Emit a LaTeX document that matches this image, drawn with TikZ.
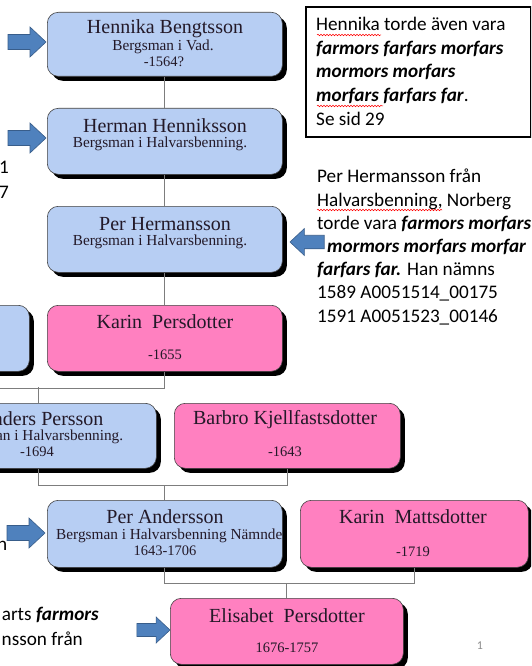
\documentclass[tikz,border=0pt]{standalone}
\usepackage{fontspec}
\setmainfont{Liberation Serif}
\newfontfamily\sidefont{Carlito}
\usetikzlibrary{shadows,decorations.pathmorphing}
\definecolor{boxblue}{RGB}{183,206,243}
\definecolor{boxpink}{RGB}{255,128,192}
\definecolor{arrowblue}{RGB}{79,129,189}
\definecolor{arrowedge}{RGB}{56,93,138}
\definecolor{linegray}{RGB}{125,125,125}
\definecolor{txt}{RGB}{35,25,40}
\begin{document}
\begin{tikzpicture}[x=1pt,y=-1pt,
  person/.style={draw=black!75, line width=0.6pt, rounded corners=11pt, anchor=north west,
     inner sep=0pt, drop shadow={shadow xshift=4.5pt, shadow yshift=-4.5pt, fill=black, opacity=1}},
  bluebox/.style={person, fill=boxblue},
  pinkbox/.style={person, fill=boxpink},
  nm/.style={inner sep=0pt, text=txt, font=\fontsize{20}{20}\selectfont},
  sub/.style={inner sep=0pt, text=txt, font=\fontsize{15.3}{15}\selectfont},
  yr/.style={inner sep=0pt, text=txt, font=\fontsize{14.5}{15}\selectfont},
  conn/.style={draw=linegray, line width=0.9pt},
  side/.style={anchor=base west, inner sep=0pt, text=black, font=\sidefont\fontsize{19.2}{20}\selectfont},
  wavy/.style={draw=red, line width=0.5pt, decorate, decoration={snake, amplitude=0.8pt, segment length=3pt}},
  rarrow/.pic={\filldraw[fill=arrowblue, draw=arrowedge, line width=0.6pt]
     (0,0) -- (-16,-15) -- (-16,-7.5) -- (-38,-7.5) -- (-38,7.5) -- (-16,7.5) -- (-16,15) -- cycle;}
]
\useasboundingbox (0,0) rectangle (531,666);
\clip (0,0) rectangle (531,666);
\fill[white] (0,0) rectangle (531,666);

% person boxes
\node[bluebox, minimum width=235pt, minimum height=64pt] (hb) at (47,12) {};
\node[bluebox, minimum width=235pt, minimum height=66pt] (hh) at (47,108) {};
\node[bluebox, minimum width=235pt, minimum height=66pt] (ph) at (47,206) {};
\node[bluebox, minimum width=235pt, minimum height=66pt] (lb) at (-206,305) {};
\node[pinkbox, minimum width=235pt, minimum height=66pt] (kp) at (47,305) {};
\node[bluebox, minimum width=235pt, minimum height=65pt] (ap) at (-79,403) {};
\node[pinkbox, minimum width=226pt, minimum height=65pt] (bk) at (174,403) {};
\node[bluebox, minimum width=235pt, minimum height=67pt] (pa) at (47,500) {};
\node[pinkbox, minimum width=228pt, minimum height=67pt] (km) at (300,500) {};
\node[pinkbox, minimum width=233pt, minimum height=66pt] (ep) at (170,598) {};

% texts in boxes
\node[nm] (hbn) at (165,29) {Hennika Bengtsson};
\node[sub] (hbs) at (163,47) {Bergsman i Vad.};
\node[yr] (hby) at (164,62) {-1564?};

\node[nm] (hhn) at (165,126) {Herman Henniksson};
\node[sub] (hhs) at (160,144) {Bergsman i Halvarsbenning.};

\node[nm] (phn) at (165,224) {Per Hermansson};
\node[sub] (phs) at (160,242) {Bergsman i Halvarsbenning.};

\node[nm] (kpn) at (165,322) {Karin\ \ Persdotter};
\node[yr] (kpy) at (165,355) {-1655};

\node[nm] (apn) at (41,419) {Anders Persson};
\node[sub] (aps) at (36,437) {Bergsman i Halvarsbenning.};
\node[yr] (apy) at (37,452) {-1694};

\node[nm] (bkn) at (285,420) {Barbro Kjellfastsdotter};
\node[yr] (bky) at (285,452) {-1643};

\node[nm] (pan) at (165,517) {Per Andersson};
\begin{scope}
  \clip (47,500) rectangle (281,567);
  \node[sub, anchor=west] (pas) at (56,536) {Bergsman i Halvarsbenning Nämndeman};
\end{scope}
\node[yr] (pay) at (165,551) {1643-1706};

\node[nm] (kmn) at (413,517) {Karin\ \ Mattsdotter};
\node[yr] (kmy) at (413,552) {-1719};

\node[nm] (epn) at (287,616) {Elisabet\ \ Persdotter};
\node[yr] (epy) at (287,648) {1676-1757};

% connectors
\draw[conn] (hb.south) -- (hh.north);
\draw[conn] (hh.south) -- (ph.north);
\draw[conn] (ph.south) -- (kp.north);
\draw[conn] (lb.south) -- ++(0,17) -| (kp.south);
\draw[conn] (ap.north) -- ++(0,-16);
\draw[conn] (ap.south) -- ++(0,17) -| (bk.south);
\draw[conn] (pa.north) -- ++(0,-15);
\draw[conn] (pa.south) -- ++(0,16) -| (km.south);
\draw[conn] (ep.north) -- ++(0,-15);

% block arrows
\pic at (46,42) {rarrow};
\pic at (46,138) {rarrow};
\pic[xscale=-0.9, yscale=0.9] at (290,242) {rarrow};
\pic at (45,533) {rarrow};
\pic[scale=0.87] at (170,630) {rarrow};

% top right text box
\node[draw=black, line width=1.8pt, fill=white, anchor=north west, minimum width=225pt,
      minimum height=130pt, inner sep=0pt] (tb) at (305,6) {};
\node[side] (t1) at (316,31) {Hennika torde även vara};
\node[side] (t2) at (316,55) {\bfseries\itshape farmors farfars morfars};
\node[side] (t3) at (316,78) {\bfseries\itshape mormors morfars};
\node[side] (t4) at (316,102) {\textbf{\textit{morfars farfars far}}.};
\node[side] (t5) at (316,125) {Se sid 29};
\draw[wavy] (317,35) -- (381,35);
\draw[wavy] (317,106) -- (383,106);

% right text
\node[side] (r1) at (317,182) {Per Hermansson från};
\node[side] (r2) at (317,206) {Halvarsbenning, Norberg};
\node[side] (r3) at (317,229) {torde vara \textbf{\textit{farmors morfars}}};
\node[side] (r4) at (327,252) {\textbf{\textit{mormors morfars morfar}}};
\node[side] (r5) at (317,275) {\textbf{\textit{farfars far.}} Han nämns};
\node[side] (r6) at (317,298) {1589 A0051514\_00175};
\node[side] (r7) at (317,322) {1591 A0051523\_00146};
\draw[wavy] (317,210) -- (442,210);

% cut-off texts on the left
\node[side] (c1) at (-1,173) {1};
\node[side] (c2) at (-1,198) {7};
\node[side] (c3) at (-3,550) {n};
\node[side, anchor=base east] (c4) at (99,620) {arts \textbf{\textit{farmors}}};
\node[side, anchor=base east] (c5) at (83,645) {nsson från};

% page number
\node[inner sep=0pt, text=black!45, font=\sidefont\fontsize{12}{12}\selectfont] (pg) at (480,646) {1};
\end{tikzpicture}
\end{document}
